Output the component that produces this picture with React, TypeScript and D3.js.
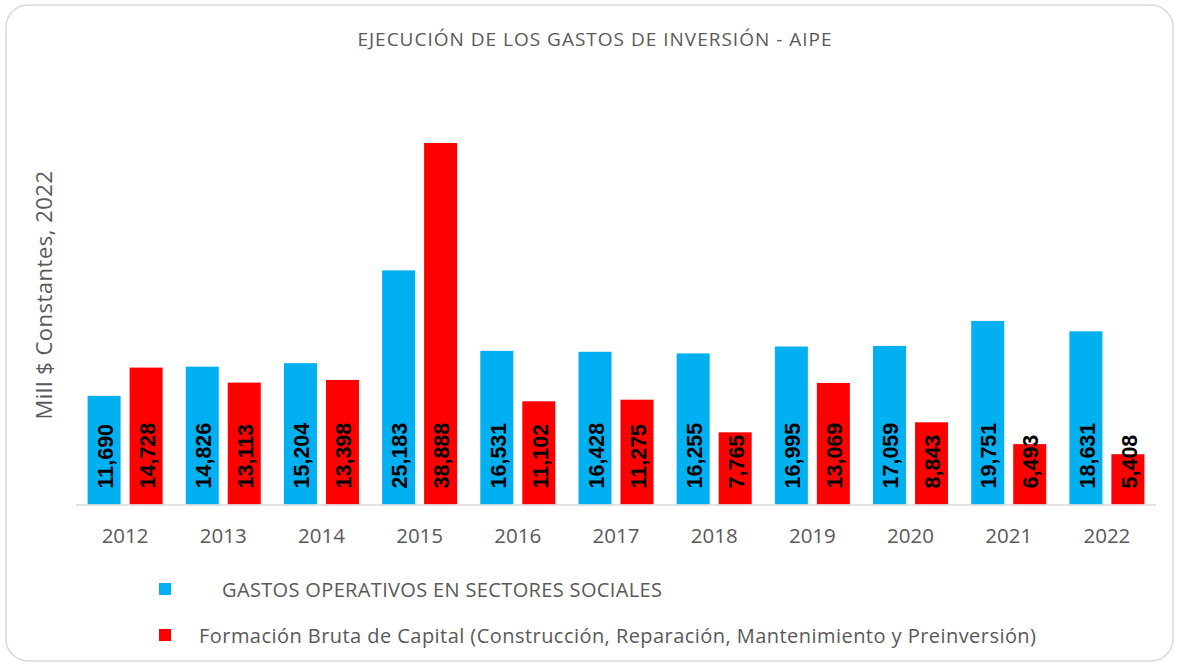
import React from 'react';
import * as d3 from 'd3';

const years = ['2012', '2013', '2014', '2015', '2016', '2017', '2018', '2019', '2020', '2021', '2022'];
const gastosOperativos = [11690, 14826, 15204, 25183, 16531, 16428, 16255, 16995, 17059, 19751, 18631];
const formacionBruta = [14728, 13113, 13398, 38888, 11102, 11275, 7765, 13069, 8843, 6493, 5408];
const seriesNames = [
  'GASTOS OPERATIVOS EN SECTORES SOCIALES',
  'Formación Bruta de Capital (Construcción, Reparación, Mantenimiento y Preinversión)'
];
const seriesColors = ['#00b0f0', '#ff0000'];
const title = 'EJECUCIÓN DE LOS GASTOS DE INVERSIÓN - AIPE';
const yTitle = 'Mill $ Constantes, 2022';

const W = 1179;
const H = 665;
const font = "'Open Sans', 'Noto Sans', sans-serif";
const grey = '#595959';

const App = () => {
  const x0 = d3.scaleBand().domain(years).range([76, 1156]).paddingInner(0.236).paddingOuter(0.118);
  const x1 = d3.scaleBand().domain(['0', '1']).range([0, x0.bandwidth()]).paddingInner(0.214);
  const y = d3.scaleLinear().domain([0, 40000]).range([504.5, 504.5 - 40000 * 0.009296]);
  const fmt = d3.format(',');
  const series = [gastosOperativos, formacionBruta];

  return (
    <svg width={W} height={H} style={{ position: 'absolute', left: 0, top: 0 }}>
      <rect x={6} y={5} width={1167} height={656} rx={22} fill="#fff" stroke="#d9d9d9" strokeWidth={1.5} />
      <text x={595} y={46} textAnchor="middle" fontFamily={font} fontSize={19} letterSpacing={1} fill={grey}>{title}</text>
      <text transform={`translate(46,295) rotate(-90)`} textAnchor="middle" dominantBaseline="middle"
        fontFamily={font} fontSize={22} letterSpacing={0.5} fill={grey}>{yTitle}</text>

      {years.map((yr, i) => (
        <g key={yr} transform={`translate(${x0(yr)},0)`}>
          {series.map((vals, s) => {
            const bx = x1(String(s)) as number;
            const bw = x1.bandwidth();
            const v = vals[i];
            return (
              <g key={s}>
                <rect x={bx} y={y(v)} width={bw} height={y(0) - y(v)} fill={seriesColors[s]} />
                <text transform={`translate(${bx + bw / 2 + 1},${y(0) - 16}) rotate(-90)`} dy="0.36em"
                  fontFamily="'Liberation Sans', Arial, sans-serif" fontWeight="bold" fontSize={21.5} fill="#000">
                  {fmt(v)}
                </text>
              </g>
            );
          })}
          <text x={x0.bandwidth() / 2} y={543} textAnchor="middle" fontFamily={font} fontSize={20.5} fill={grey}>{yr}</text>
        </g>
      ))}

      <line x1={76} x2={1156} y1={505} y2={505} stroke="#d9d9d9" strokeWidth={1.5} />

      <rect x={159} y={583} width={12} height={12} fill={seriesColors[0]} />
      <text x={222} y={597} fontFamily={font} fontSize={20} letterSpacing={0.35} fill={grey}>{seriesNames[0]}</text>
      <rect x={159} y={629} width={12} height={12} fill={seriesColors[1]} />
      <text x={199} y={643} fontFamily={font} fontSize={20} letterSpacing={0.45} fill={grey}>{seriesNames[1]}</text>
    </svg>
  );
};

export default App;
